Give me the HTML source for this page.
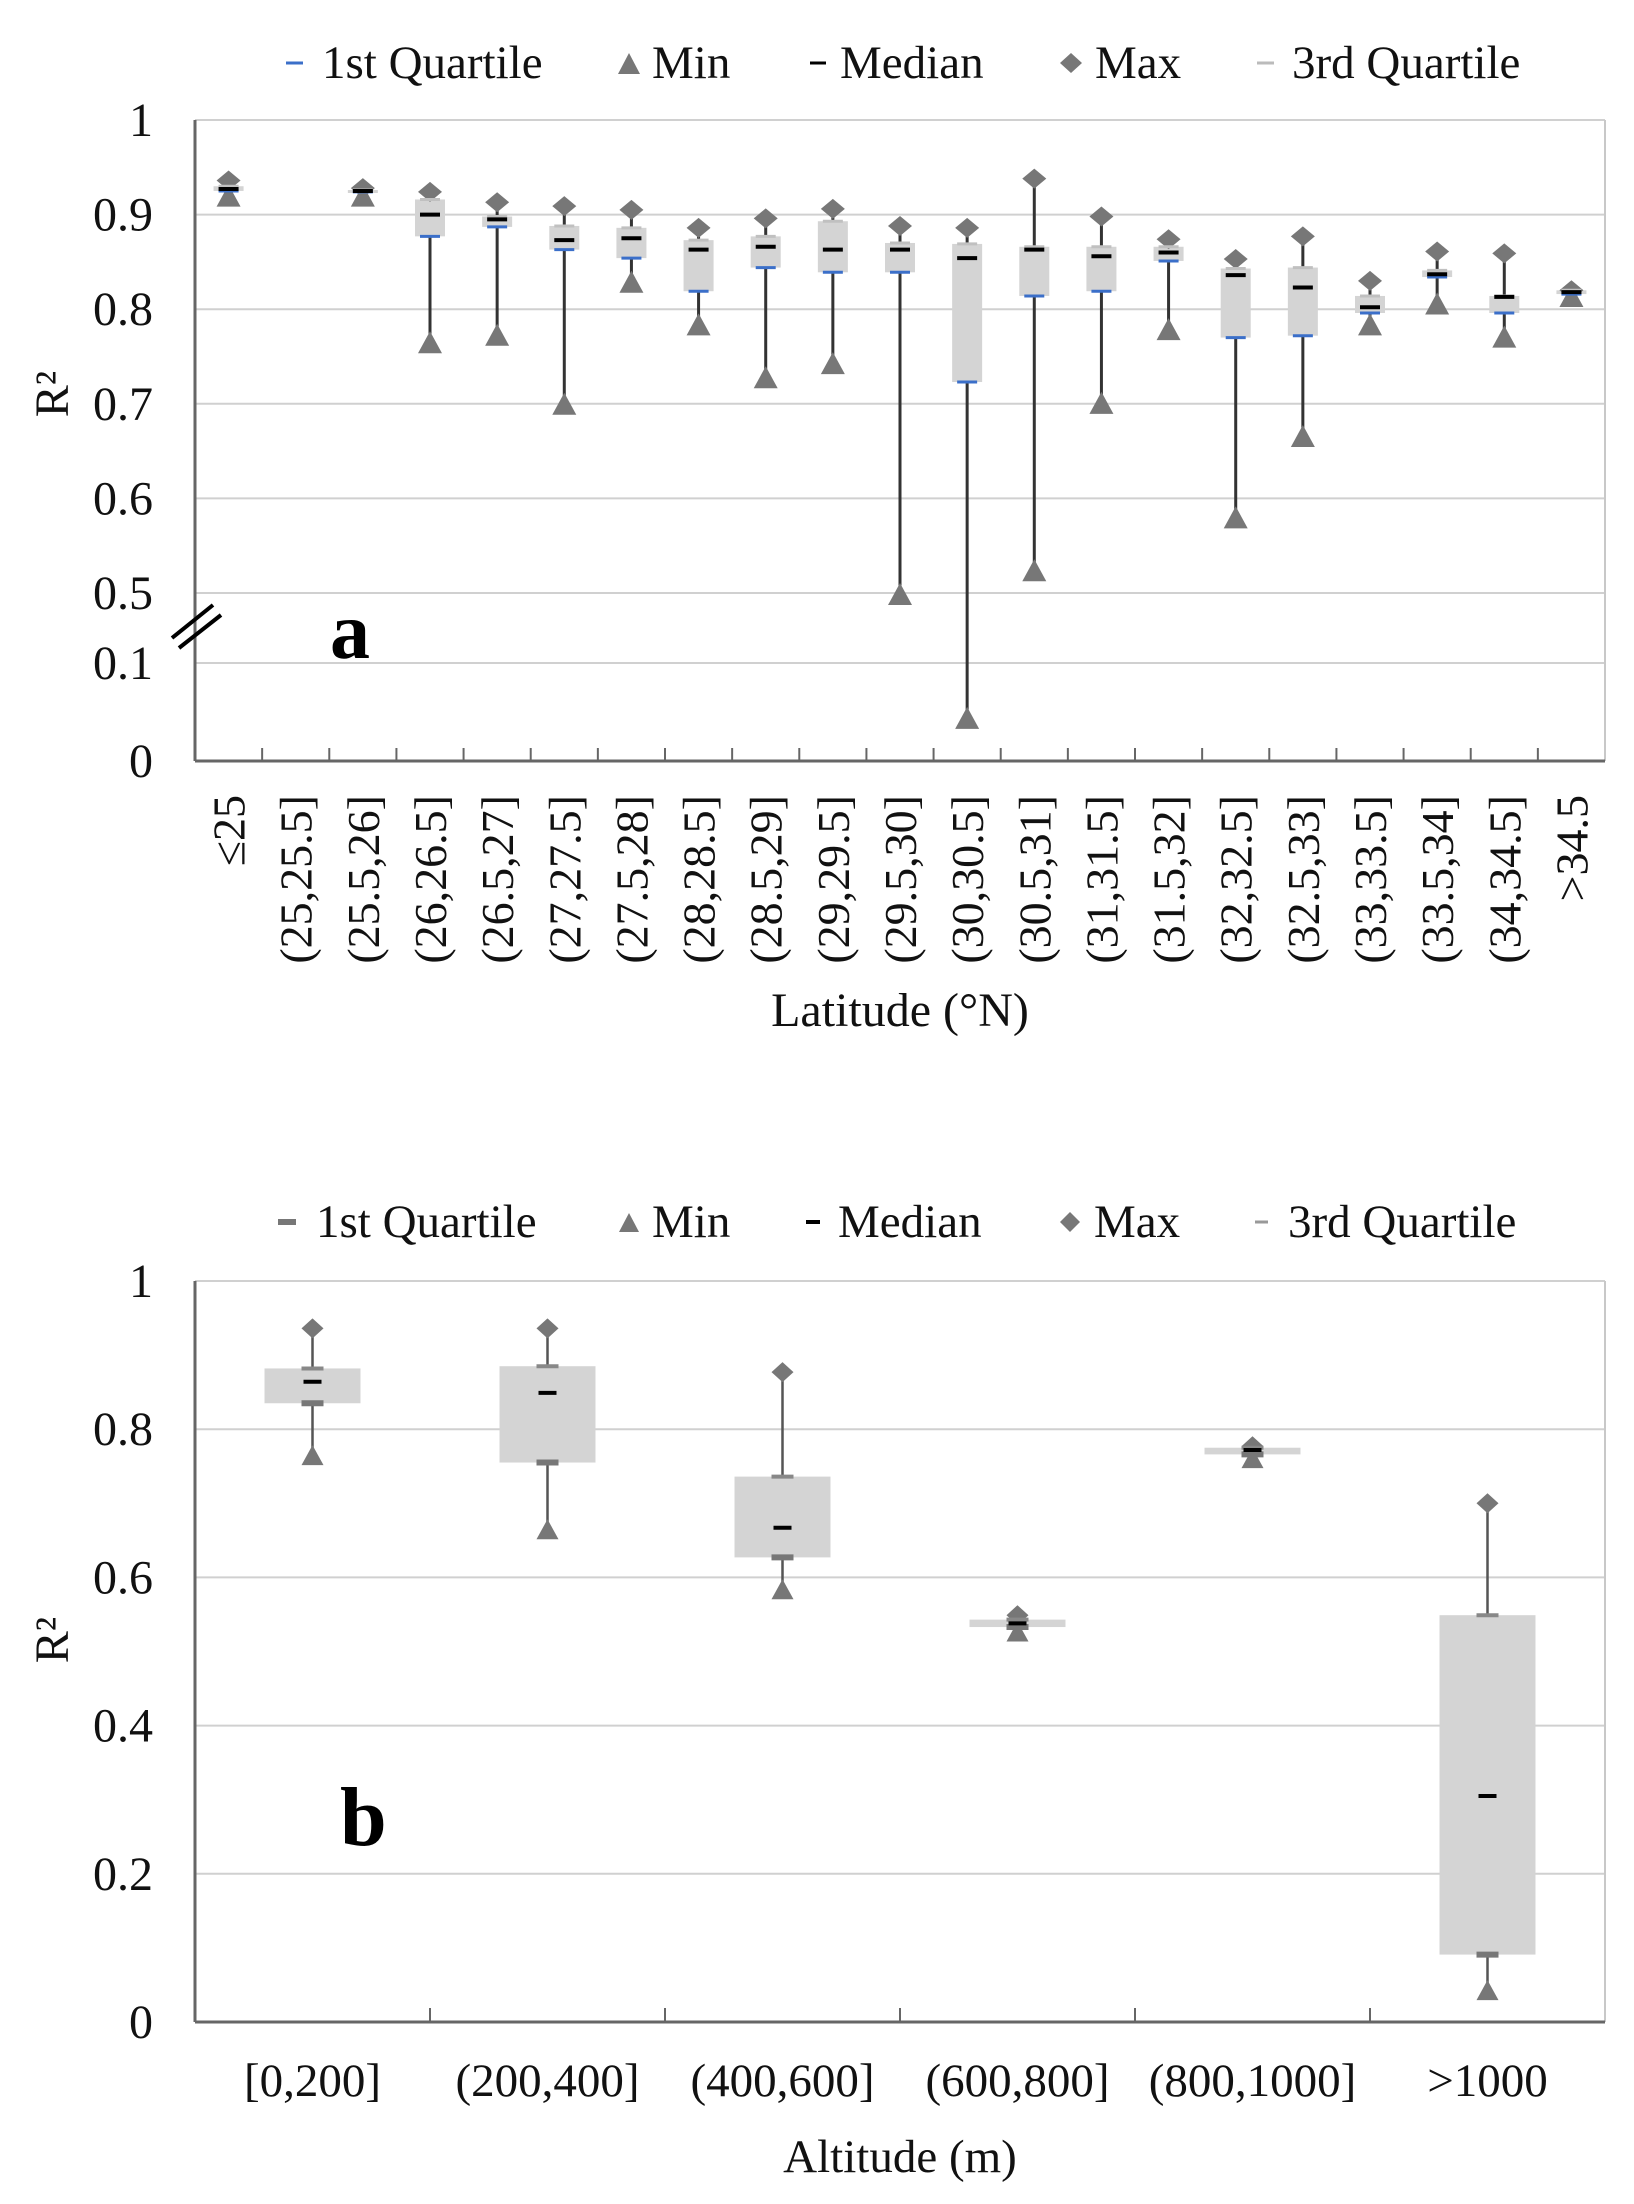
<!DOCTYPE html>
<html><head><meta charset="utf-8">
<style>
html,body{margin:0;padding:0;background:#fff;}
svg{display:block;font-family:"Liberation Serif",serif;}
</style></head>
<body>
<svg id="chart" width="1634" height="2204" viewBox="0 0 1634 2204" xmlns="http://www.w3.org/2000/svg">
<g id="pa"></g>
<g id="pb"></g>
</svg>
<script>
const latCats = ["≤25","(25,25.5]","(25.5,26]","(26,26.5]","(26.5,27]","(27,27.5]","(27.5,28]","(28,28.5]","(28.5,29]","(29,29.5]","(29.5,30]","(30,30.5]","(30.5,31]","(31,31.5]","(31.5,32]","(32,32.5]","(32.5,33]","(33,33.5]","(33.5,34]","(34,34.5]",">34.5"];
const latMin = [0.92,null,0.92,0.765,0.773,0.70,0.829,0.784,0.728,0.743,0.494,0.044,0.524,0.701,0.779,0.58,0.666,0.784,0.806,0.771,0.814];
const latQ1  = [0.925,null,0.924,0.877,0.887,0.863,0.854,0.819,0.844,0.839,0.839,0.723,0.814,0.819,0.851,0.77,0.772,0.796,0.834,0.796,0.816];
const latMed = [0.927,null,0.925,0.90,0.895,0.873,0.875,0.863,0.866,0.863,0.863,0.854,0.863,0.856,0.86,0.836,0.823,0.802,0.837,0.813,0.818];
const latQ3  = [0.93,null,0.926,0.916,0.898,0.888,0.886,0.873,0.877,0.893,0.87,0.869,0.866,0.866,0.866,0.843,0.844,0.814,0.841,0.814,0.82];
const latMax = [0.936,null,0.928,0.924,0.913,0.909,0.905,0.886,0.896,0.906,0.888,0.886,0.938,0.898,0.874,0.853,0.877,0.83,0.861,0.859,0.82];
const latTicks = [0,0.1,0.5,0.6,0.7,0.8,0.9,1];
const latTickLabels = ["0","0.1","0.5","0.6","0.7","0.8","0.9","1"];

const altCats = ["[0,200]","(200,400]","(400,600]","(600,800]","(800,1000]",">1000"];
const altMin = [0.765,0.665,0.584,0.527,0.761,0.043];
const altQ1  = [0.835,0.755,0.627,0.533,0.766,0.091];
const altMed = [0.864,0.849,0.667,0.538,0.772,0.305];
const altQ3  = [0.882,0.885,0.736,0.543,0.775,0.549];
const altMax = [0.936,0.936,0.877,0.549,0.777,0.70];
const altTicks = [0,0.2,0.4,0.6,0.8,1];
const altTickLabels = ["0","0.2","0.4","0.6","0.8","1"];

const NS="http://www.w3.org/2000/svg";
function mk(parent,tag,attrs,text){const e=document.createElementNS(NS,tag);for(const k in attrs)e.setAttribute(k,attrs[k]);if(text!==undefined)e.textContent=text;parent.appendChild(e);return e;}

// ---------- Panel A ----------
const A=document.getElementById('pa');
const aL=195,aR=1605,aTop=120,aBot=761;
function yA(v){ if(v<=0.1) return aBot-(v/0.1)*(aBot-663); if(v<0.5) return 663-(v-0.1)/0.4*(663-593); return 593-(v-0.5)/0.5*(593-aTop);}
const aBand=(aR-aL)/latCats.length;
function xA(i){return aL+aBand*(i+0.5);}
latTicks.forEach((t,i)=>{
  const g=mk(A,'line',{x1:aL,x2:aR,y1:yA(t),y2:yA(t),stroke:'#d0d0d0','stroke-width':2});
  
  
  const tl=mk(A,'text',{x:153,y:yA(t)+16,'text-anchor':'end','font-size':48,fill:'#111'},latTickLabels[i]);
  
  
});
mk(A,'line',{x1:aR,x2:aR,y1:aTop,y2:aBot,stroke:'#c8c8c8','stroke-width':2});
mk(A,'line',{x1:aL,x2:aL,y1:aTop,y2:aBot,stroke:'#666','stroke-width':3});
mk(A,'line',{x1:aL,x2:aR,y1:aBot,y2:aBot,stroke:'#666','stroke-width':3});
for(let i=1;i<latCats.length;i++){mk(A,'line',{x1:aL+aBand*i,x2:aL+aBand*i,y1:aBot,y2:aBot-13,stroke:'#666','stroke-width':2});}
mk(A,'line',{x1:172,y1:638,x2:213,y2:605,stroke:'#000','stroke-width':4});
mk(A,'line',{x1:179,y1:648,x2:221,y2:615,stroke:'#000','stroke-width':4});
latCats.forEach((c,i)=>{
  const cx=xA(i);
  const lab=mk(A,'text',{transform:`translate(${cx+16},795) rotate(-90)`,'text-anchor':'end','font-size':46,fill:'#111'},c);
  
  
  if(latMin[i]===null) return;
  const g=mk(A,'g',{});
  
  
  mk(g,'line',{x1:cx,x2:cx,y1:yA(latMin[i]),y2:yA(latMax[i]),stroke:'#333','stroke-width':3});
  mk(g,'rect',{x:cx-15,y:yA(latQ3[i]),width:30,height:Math.max(yA(latQ1[i])-yA(latQ3[i]),3),fill:'#d4d4d4'});
  const ym=yA(latMin[i]);
  mk(g,'polygon',{points:`${cx-12},${ym+11} ${cx+12},${ym+11} ${cx},${ym-11}`,fill:'#777'});
  const yx=yA(latMax[i]);
  mk(g,'polygon',{points:`${cx-12},${yx} ${cx},${yx-10} ${cx+12},${yx} ${cx},${yx+10}`,fill:'#777'});
  mk(g,'line',{x1:cx-10,x2:cx+10,y1:yA(latQ3[i]),y2:yA(latQ3[i]),stroke:'#c0c0c0','stroke-width':3});
  mk(g,'line',{x1:cx-10,x2:cx+10,y1:yA(latQ1[i]),y2:yA(latQ1[i]),stroke:'#3b6fc9','stroke-width':3});
  mk(g,'line',{x1:cx-10,x2:cx+10,y1:yA(latMed[i]),y2:yA(latMed[i]),stroke:'#000','stroke-width':4});
});
mk(A,'text',{x:330,y:658,'font-size':80,'font-weight':'bold',fill:'#000'},'a');
mk(A,'text',{x:900,y:1026,'text-anchor':'middle','font-size':48,fill:'#111'},'Latitude (°N)');
mk(A,'text',{transform:'translate(68,394) rotate(-90)','text-anchor':'middle','font-size':48,fill:'#111'},'R²');
(function(){
  const y=63;
  mk(A,'line',{x1:286,x2:303,y1:y,y2:y,stroke:'#3b6fc9','stroke-width':3});
  mk(A,'text',{x:322,y:y+15,'font-size':47,fill:'#111'},'1st Quartile');
  mk(A,'polygon',{points:`618,${y+11} 640,${y+11} 629,${y-10}`,fill:'#777'});
  mk(A,'text',{x:652,y:y+15,'font-size':47,fill:'#111'},'Min');
  mk(A,'line',{x1:810,x2:826,y1:y,y2:y,stroke:'#000','stroke-width':3});
  mk(A,'text',{x:840,y:y+15,'font-size':47,fill:'#111'},'Median');
  mk(A,'polygon',{points:`1060,${y} 1071,${y-10} 1082,${y} 1071,${y+10}`,fill:'#777'});
  mk(A,'text',{x:1095,y:y+15,'font-size':47,fill:'#111'},'Max');
  mk(A,'line',{x1:1257,x2:1274,y1:y,y2:y,stroke:'#bbb','stroke-width':3});
  mk(A,'text',{x:1292,y:y+15,'font-size':47,fill:'#111'},'3rd Quartile');
})();

// ---------- Panel B ----------
const B=document.getElementById('pb');
const bL=195,bR=1605,bTop=1281,bBot=2022;
function yB(v){return bBot-v*(bBot-bTop);}
const bBand=(bR-bL)/altCats.length;
function xB(i){return bL+bBand*(i+0.5);}
altTicks.forEach((t,i)=>{
  if(t>0){const g=mk(B,'line',{x1:bL,x2:bR,y1:yB(t),y2:yB(t),stroke:'#d0d0d0','stroke-width':2});
  
  }
  const tl=mk(B,'text',{x:153,y:yB(t)+16,'text-anchor':'end','font-size':48,fill:'#111'},altTickLabels[i]);
  
  
});
mk(B,'line',{x1:bR,x2:bR,y1:bTop,y2:bBot,stroke:'#c8c8c8','stroke-width':2});
mk(B,'line',{x1:bL,x2:bL,y1:bTop,y2:bBot,stroke:'#666','stroke-width':3});
mk(B,'line',{x1:bL,x2:bR,y1:bBot,y2:bBot,stroke:'#666','stroke-width':3});
for(let i=1;i<altCats.length;i++){mk(B,'line',{x1:bL+bBand*i,x2:bL+bBand*i,y1:bBot,y2:bBot-14,stroke:'#666','stroke-width':2});}
altCats.forEach((c,i)=>{
  const cx=xB(i);
  const lab=mk(B,'text',{x:cx,y:2096,'text-anchor':'middle','font-size':47,fill:'#111'},c);
  
  
  const g=mk(B,'g',{});
  
  
  mk(g,'line',{x1:cx,x2:cx,y1:yB(altMin[i]),y2:yB(altMax[i]),stroke:'#555','stroke-width':2.5});
  mk(g,'rect',{x:cx-48,y:yB(altQ3[i]),width:96,height:Math.max(yB(altQ1[i])-yB(altQ3[i]),6),fill:'#d4d4d4'});
  const ym=yB(altMin[i]);
  mk(g,'polygon',{points:`${cx-11},${ym+10} ${cx+11},${ym+10} ${cx},${ym-10}`,fill:'#777'});
  const yx=yB(altMax[i]);
  mk(g,'polygon',{points:`${cx-11},${yx} ${cx},${yx-10} ${cx+11},${yx} ${cx},${yx+10}`,fill:'#777'});
  mk(g,'line',{x1:cx-11,x2:cx+11,y1:yB(altQ3[i]),y2:yB(altQ3[i]),stroke:'#888','stroke-width':4});
  mk(g,'line',{x1:cx-11,x2:cx+11,y1:yB(altQ1[i]),y2:yB(altQ1[i]),stroke:'#777','stroke-width':6});
  mk(g,'line',{x1:cx-9,x2:cx+9,y1:yB(altMed[i]),y2:yB(altMed[i]),stroke:'#000','stroke-width':4});
});
mk(B,'text',{x:340,y:1845,'font-size':84,'font-weight':'bold',fill:'#000'},'b');
mk(B,'text',{x:900,y:2172,'text-anchor':'middle','font-size':47,fill:'#111'},'Altitude (m)');
mk(B,'text',{transform:'translate(68,1640) rotate(-90)','text-anchor':'middle','font-size':48,fill:'#111'},'R²');
(function(){
  const y=1222;
  mk(B,'line',{x1:278,x2:296,y1:y,y2:y,stroke:'#777','stroke-width':6});
  mk(B,'text',{x:316,y:y+15,'font-size':47,fill:'#111'},'1st Quartile');
  mk(B,'polygon',{points:`619,${y+10} 639,${y+10} 629,${y-9}`,fill:'#777'});
  mk(B,'text',{x:652,y:y+15,'font-size':47,fill:'#111'},'Min');
  mk(B,'line',{x1:806,x2:820,y1:y,y2:y,stroke:'#000','stroke-width':4});
  mk(B,'text',{x:838,y:y+15,'font-size':47,fill:'#111'},'Median');
  mk(B,'polygon',{points:`1060,${y} 1070,${y-10} 1080,${y} 1070,${y+10}`,fill:'#777'});
  mk(B,'text',{x:1094,y:y+15,'font-size':47,fill:'#111'},'Max');
  mk(B,'line',{x1:1255,x2:1268,y1:y,y2:y,stroke:'#999','stroke-width':3});
  mk(B,'text',{x:1288,y:y+15,'font-size':47,fill:'#111'},'3rd Quartile');
})();
</script>
</body></html>
